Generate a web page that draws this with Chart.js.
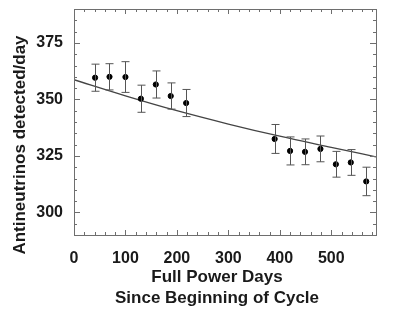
<!DOCTYPE html>
<html>
<head>
<meta charset="utf-8">
<script src="https://cdn.jsdelivr.net/npm/chart.js@4/dist/chart.umd.min.js"></script>
<style>
  html, body { margin: 0; padding: 0; background: #fff; }
  #wrap { width: 415px; height: 312px; position: relative; }
</style>
</head>
<body>
<div id="wrap"><canvas id="chart"></canvas></div>
<script>
/* ── data ────────────────────────────────────────────────── */
const DAYS     = [41, 69, 100, 130, 159, 188, 218, 390, 420, 449, 479, 509, 538, 568];
const RATE     = [359.6, 360.0, 359.9, 350.3, 356.6, 351.5, 348.4, 332.5, 327.2, 326.8, 328.1, 321.3, 322.1, 313.7];
const RATE_ERR = [6.0, 5.8, 6.8, 6.0, 6.0, 5.8, 6.0, 6.4, 6.2, 5.7, 5.7, 5.7, 5.7, 6.3];

const FIT_DAYS = [0, 100, 200, 300, 400, 500, 587];
const FIT_RATE = [358.7, 351.6, 345.0, 339.1, 333.7, 328.8, 324.6];

const X_TICKS = [0, 100, 200, 300, 400, 500];
const Y_TICKS = [300, 325, 350, 375];

const X_RANGE = [0, 587];
const Y_RANGE = [290, 390];

const FONT = 'Arial, "Liberation Sans", Helvetica, sans-serif';
const AXIS_COLOR = '#6e6e6e';

/* box, inward ticks on all sides, error bars, axis titles */
const framePlugin = {
  id: 'frame',
  afterDatasetsDraw(chart) {
    const { ctx, chartArea: a, scales: { x, y } } = chart;
    ctx.save();

    // error bars
    ctx.strokeStyle = '#555';
    ctx.lineWidth = 1;
    DAYS.forEach((d, i) => {
      const px  = Math.round(x.getPixelForValue(d)) + 0.5;
      const top = y.getPixelForValue(RATE[i] + RATE_ERR[i]);
      const bot = y.getPixelForValue(RATE[i] - RATE_ERR[i]);
      ctx.beginPath();
      ctx.moveTo(px, top); ctx.lineTo(px, bot);
      ctx.moveTo(px - 4, top); ctx.lineTo(px + 4, top);
      ctx.moveTo(px - 4, bot); ctx.lineTo(px + 4, bot);
      ctx.stroke();
    });

    // frame
    ctx.strokeStyle = AXIS_COLOR;
    ctx.strokeRect(Math.round(a.left) + 0.5, Math.round(a.top) + 0.5,
                   Math.round(a.right - a.left), Math.round(a.bottom - a.top));

    // minor/major ticks, pointing inward
    ctx.beginPath();
    for (let v = X_RANGE[0]; v <= X_RANGE[1]; v += 20) {
      const px = Math.round(x.getPixelForValue(v)) + 0.5;
      const len = v % 100 === 0 ? 5 : 3;
      ctx.moveTo(px, a.bottom); ctx.lineTo(px, a.bottom - len);
      ctx.moveTo(px, a.top);    ctx.lineTo(px, a.top + len);
    }
    for (let v = Y_RANGE[0]; v <= Y_RANGE[1]; v += 5) {
      const py = Math.round(y.getPixelForValue(v)) + 0.5;
      const len = v % 25 === 0 ? 6 : 3;
      ctx.moveTo(a.left, py);  ctx.lineTo(a.left + len, py);
      ctx.moveTo(a.right, py); ctx.lineTo(a.right - len, py);
    }
    ctx.stroke();

    // axis titles
    ctx.fillStyle = '#1a1a1a';
    ctx.font = `bold 17px ${FONT}`;
    ctx.textAlign = 'center';
    ctx.textBaseline = 'middle';
    ctx.fillText('Full Power Days', 217, 277);
    ctx.fillText('Since Beginning of Cycle', 217, 298);

    ctx.translate(20, 145);
    ctx.rotate(-Math.PI / 2);
    ctx.fillText('Antineutrinos detected/day', 0, 0);

    ctx.restore();
  },
};

new Chart(document.getElementById('chart'), {
  type: 'scatter',
  data: {
    datasets: [
      {
        label: 'fit',
        type: 'line',
        data: FIT_DAYS.map((d, i) => ({ x: d, y: FIT_RATE[i] })),
        borderColor: '#444',
        borderWidth: 1.3,
        pointRadius: 0,
        cubicInterpolationMode: 'monotone',
        fill: false,
        order: 2,
      },
      {
        label: 'data',
        data: DAYS.map((d, i) => ({ x: d, y: RATE[i] })),
        backgroundColor: '#000',
        borderColor: '#000',
        pointRadius: 2.6,
        order: 1,
      },
    ],
  },
  options: {
    responsive: true,
    maintainAspectRatio: false,
    animation: false,
    layout: { padding: { top: 9, right: 39, left: 0, bottom: 0 } },
    plugins: { legend: { display: false }, tooltip: { enabled: false } },
    scales: {
      x: {
        type: 'linear',
        min: X_RANGE[0],
        max: X_RANGE[1],
        grid: { display: false, drawTicks: false },
        border: { display: false },
        afterBuildTicks: s => { s.ticks = X_TICKS.map(v => ({ value: v })); },
        afterFit: s => { s.height = 77; s.paddingLeft = 0; s.paddingRight = 0; },
        ticks: {
          color: '#1a1a1a',
          padding: 14,
          maxRotation: 0,
          font: { family: FONT, size: 16, weight: 'bold' },
        },
      },
      y: {
        type: 'linear',
        min: Y_RANGE[0],
        max: Y_RANGE[1],
        grid: { display: false, drawTicks: false },
        border: { display: false },
        afterBuildTicks: s => { s.ticks = Y_TICKS.map(v => ({ value: v })); },
        afterFit: s => { s.width = 74; s.paddingTop = 0; s.paddingBottom = 0; },
        ticks: {
          color: '#1a1a1a',
          padding: 11,
          font: { family: FONT, size: 16, weight: 'bold' },
        },
      },
    },
  },
  plugins: [framePlugin],
});
</script>
</body>
</html>
